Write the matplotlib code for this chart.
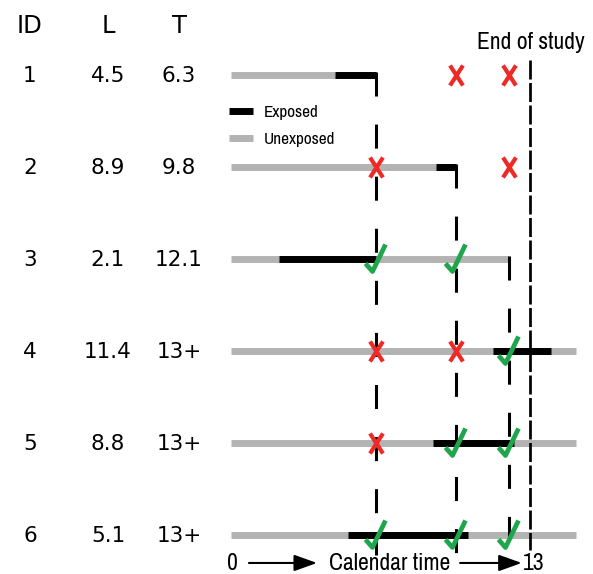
import numpy as np
import matplotlib
matplotlib.use("Agg")
import matplotlib.pyplot as plt
from matplotlib.path import Path
from matplotlib.lines import Line2D

# table values
ids = [1, 2, 3, 4, 5, 6]
L_vals = [4.5, 8.9, 2.1, 11.4, 8.8, 5.1]
T_labels = ["6.3", "9.8", "12.1", "13+", "13+", "13+"]
follow_end = [6.3, 9.8, 12.1, 15.0, 15.0, 15.0]   # end of each grey bar
exp_start = [4.5, 8.9, 2.1, 11.4, 8.8, 5.1]
exp_end = [6.3, 9.8, 6.3, 13.9, 12.3, 10.3]
event_times = [6.3, 9.8, 12.1]     # failure times of ID 1, 2, 3
event_rows = [1, 2, 3]
study_end = 13
# mark of each row at each event time: 'x' unexposed, 'v' exposed, '' none
marks = [
    ["", "x", "x"],
    ["x", "", "x"],
    ["v", "v", ""],
    ["x", "x", "v"],
    ["x", "v", "v"],
    ["v", "v", "v"],
]

GREY = "#b3b3b3"
RED = "#ee2a26"
GREEN = "#1fa64c"
NARROW = ["Archivo Narrow", "Liberation Sans"]

plt.rcParams["lines.scale_dashes"] = False

fig = plt.figure(figsize=(5.93, 5.74), dpi=100)
ax = fig.add_axes([0, 0, 1, 1])
# 23 px per time unit (origin at 231 px), 92 px per row
ax.set_xlim(-231 / 23.0, (593 - 231) / 23.0)
ax.set_ylim(1 + (574 - 75) / 92, 1 - 75 / 92)
ax.axis("off")

# custom marker shapes (pixel units)
check = Path([(-11, -4), (-4, -12), (9, 15)], [Path.MOVETO, Path.LINETO, Path.LINETO])
cross = Path([(-5.5, -8.5), (5.5, 8.5), (-5.5, 8.5), (5.5, -8.5)],
             [Path.MOVETO, Path.LINETO, Path.MOVETO, Path.LINETO])

col_x = [-8.74, -5.35, -2.26]   # ID, L, T column centres

# header row
for xc, lab in zip(col_x, ["ID", "L", "T"]):
    ax.text(xc, 0.543, lab, ha="center", va="baseline", fontsize=17.5,
            family="DejaVu Sans")

for i, r in enumerate(ids):
    row_txt = [str(r), f"{L_vals[i]}", T_labels[i]]
    for xc, s in zip(col_x, row_txt):
        ax.text(xc, r + 0.08, s, ha="center", va="baseline", fontsize=15.5,
                family="DejaVu Sans")
    ax.plot([0, follow_end[i]], [r, r], color=GREY, lw=5, solid_capstyle="butt", zorder=1)
    ax.plot([exp_start[i], exp_end[i]], [r, r], color="k", lw=5,
            solid_capstyle="butt", zorder=2)

# dashed lines dropping from each event
for t, r in zip(event_times, event_rows):
    ax.plot([t, t], [r - 0.03, 6.22], color="k", lw=2.2,
            linestyle=(0, (17.3, 20.2)), zorder=3)

# end of study
ax.plot([study_end, study_end], [0.84, 6.16], color="k", lw=1.95,
        linestyle=(0, (13.7, 2.5)), zorder=3)
ax.text(study_end + 0.05, 0.717, "End of study", ha="center", va="baseline",
        fontsize=17, family=NARROW)

for i, r in enumerate(ids):
    for t, m in zip(event_times, marks[i]):
        if m == "x":
            ax.plot(t, r, marker=cross, ms=14.4, mfc="none", mec=RED, mew=3.0, zorder=5)
        elif m == "v":
            ax.plot(t, r, marker=check, ms=21.6, mfc="none", mec=GREEN, mew=3.4, zorder=5)

# legend
handles = [Line2D([], [], color="k", lw=5, solid_capstyle="butt"),
           Line2D([], [], color=GREY, lw=5, solid_capstyle="butt")]
ax.legend(handles, ["Exposed", "Unexposed"], loc="upper left",
          bbox_to_anchor=(-0.09, 1.325), bbox_transform=ax.transData,
          frameon=False, borderpad=0, borderaxespad=0, handlelength=1.4,
          handletextpad=0.6, labelspacing=0.72,
          prop={"family": NARROW, "size": 12.4})

# calendar time axis
ybase = 6.38
ax.text(0.05, ybase, "0", ha="center", va="baseline", fontsize=17, family=NARROW)
ax.text(study_end + 0.15, ybase, "13", ha="center", va="baseline", fontsize=17,
        family=NARROW)
ax.text(6.88, ybase, "Calendar time", ha="center", va="baseline", fontsize=17,
        family=NARROW)
arrow = dict(arrowstyle="-|>,head_length=1.4,head_width=0.5", lw=1.5, color="k",
             shrinkA=0, shrinkB=0, mutation_scale=10)
ax.annotate("", xy=(3.74, 6.304), xytext=(0.78, 6.304), arrowprops=arrow)
ax.annotate("", xy=(12.64, 6.304), xytext=(9.96, 6.304), arrowprops=arrow)

fig.savefig("out.png", dpi=100)
